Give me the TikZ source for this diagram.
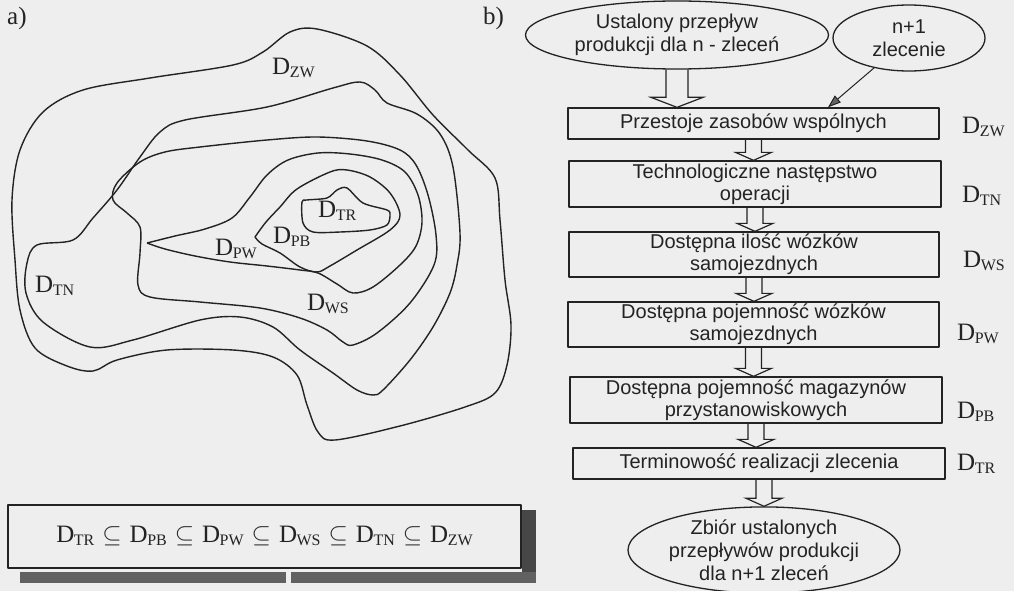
\documentclass[tikz,border=0pt]{standalone}
\usepackage{fontspec}
\usepackage{graphicx}
\setmainfont{Liberation Serif}
\newfontfamily\arialf{Liberation Sans}
\usetikzlibrary{shapes.geometric,calc,arrows.meta}
\definecolor{bg}{RGB}{238,238,238}
\definecolor{ink}{RGB}{35,35,35}
\newcommand\DD[1]{D\kern-0.02em\raisebox{-0.12em}{\scalebox{0.64}{#1}}}
\newcommand\subs{\hspace{8pt}$\subseteq$\hspace{8pt}}
\newcommand\blockarrow[5]{\draw[barrow] let \p1=(#1), \p2=(#2) in
  (\x1-#3,\y1) -- (\x1-#3,\y2+#5) -- (\x1-#4,\y2+#5) -- (\x1,\y2) --
  (\x1+#4,\y2+#5) -- (\x1+#3,\y2+#5) -- (\x1+#3,\y1);}
\begin{document}
\begin{tikzpicture}[x=1pt,y=-1pt,line join=round,
  contour/.style={draw=ink,line width=1.4pt},
  lab/.style={font=\fontsize{25}{25}\selectfont,inner sep=0pt,anchor=base west,text=ink},
  box/.style={draw=ink,line width=1.3pt,rectangle,inner sep=0pt,align=center,
    font=\arialf\fontsize{20}{22}\selectfont,text=ink},
  oval/.style={draw=ink,line width=1.3pt,ellipse,inner sep=0pt,align=center,
    font=\arialf\fontsize{20}{23}\selectfont,text=ink},
  barrow/.style={draw=ink,line width=1.2pt,line join=miter}]
\fill[bg] (0,0) rectangle (1014,591);
\useasboundingbox (0,0) rectangle (1014,591);

% ---------- part a) contours ----------
% D_ZW
\draw[contour] plot[smooth cycle,tension=0.55] coordinates {
 (12,200) (20,150) (43,112) (83,90) (150,78) (233,65) (263,52) (290,32) (317,29)
 (367,46) (400,75) (433,115) (468,150) (495,178) (500,220) (505,280) (511,325)
 (507,365) (495,393) (465,407) (400,426) (335,440) (318,432) (307,405) (297,375)
 (273,357) (233,350) (167,350) (117,360) (93,371) (67,366) (35,348) (20,310) (15,260)};
% D_TN
\draw[contour] plot[smooth cycle,tension=0.55] coordinates {
 (360,82) (375,90) (387,103) (417,114) (440,134) (453,167) (460,233) (457,265)
 (450,293) (433,327) (410,360) (383,390) (373,395) (357,390) (333,373) (300,350)
 (273,327) (240,317) (200,320) (133,340) (90,347) (43,322) (26,293) (27,263)
 (37,245) (73,240) (93,218) (117,190) (140,157) (160,132) (185,120) (267,107) (333,88)};
% D_WS
\draw[contour] plot[smooth cycle,tension=0.55] coordinates {
 (140,162) (165,152) (200,147) (267,140) (317,137) (367,141) (400,150) (416,165)
 (428,195) (436,235) (434,265) (410,303) (377,333) (353,345) (343,342) (327,330)
 (300,318) (260,308) (200,302) (150,297) (138,285) (140,253) (140,227) (127,213)
 (113,200) (117,183)};
% D_PW
\draw[contour] plot[smooth,tension=0.55] coordinates {
 (147,243) (175,236) (205,229) (232,218) (250,197) (267,175) (288,160) (318,153)
 (350,154) (382,160) (405,172) (418,195) (422,222) (416,246) (400,265) (373,287)
 (353,293) (337,284) (318,273) (300,270) (267,266) (230,262) (195,256) (165,249) (147,243)};
% D_PB
\draw[contour] plot[smooth,tension=0.55] coordinates {
 (255,237) (266,222) (280,207) (297,189) (330,172) (347,170) (370,177) (390,193)
 (400,215) (390,230) (357,250) (330,266) (317,272) (300,267) (280,253) (262,244) (255,237)};
% D_TR
\draw[contour] plot[smooth cycle,tension=0.5] coordinates {
 (302,202) (303,223) (313,232) (340,232) (370,230) (387,225) (390,215) (387,210)
 (363,203) (347,188) (337,190) (327,198) (307,200)};

\node[lab] (la) at (7,25) {a)};
\node[lab] (lzw) at (272,75) {\DD{ZW}};
\node[lab] (ltn) at (35,292) {\DD{TN}};
\node[lab] (lpw) at (215,255) {\DD{PW}};
\node[lab] (lpb) at (273,243) {\DD{PB}};
\node[lab] (ltr) at (318,217) {\DD{TR}};
\node[lab] (lws) at (307,310) {\DD{WS}};

% bottom formula box with shadow
\fill[black!72] (522,510) rectangle (536,583);
\fill[black!62] (20,572) rectangle (286,583);
\fill[black!62] (291,572) rectangle (536,583);
\node[draw=ink,line width=1.6pt,fill=bg,minimum width=513pt,minimum height=63pt,inner sep=0pt,
  font=\fontsize{25}{25}\selectfont,text=ink] (eq) at (264.5,536.5)
  {\DD{TR}\subs\DD{PB}\subs\DD{PW}\subs\DD{WS}\subs\DD{TN}\subs\DD{ZW}};

% ---------- part b) flow ----------
\node[lab] (lb) at (483,25) {b)};
\node[oval,minimum width=303pt,minimum height=68pt] (e1) at (677,35)
  {Ustalony przepływ\\produkcji dla n - zleceń};
\node[oval,minimum width=152pt,minimum height=66pt] (e2) at (909,38)
  {n+1\\zlecenie};
\node[box,minimum width=371pt,minimum height=31pt] (b1) at (753.5,123.5)
  {Przestoje zasobów wspólnych};
\node[box,minimum width=372pt,minimum height=46pt] (b2) at (755,184)
  {Technologiczne następstwo\\operacji};
\node[box,minimum width=370pt,minimum height=45pt] (b3) at (754,254.5)
  {Dostępna ilość wózków\\samojezdnych};
\node[box,minimum width=371pt,minimum height=45pt] (b4) at (753.5,324.5)
  {Dostępna pojemność wózków\\samojezdnych};
\node[box,minimum width=372pt,minimum height=46pt] (b5) at (756,400)
  {Dostępna pojemność magazynów\\przystanowiskowych};
\node[box,minimum width=372pt,minimum height=31pt] (b6) at (759,463.5)
  {Terminowość realizacji zlecenia};
\node[oval,minimum width=272pt,minimum height=86pt] (e3) at (764,550)
  {Zbiór ustalonych\\przepływów produkcji\\dla n+1 zleceń};

\node[lab] (rzw) at (962,133) {\DD{ZW}};
\node[lab] (rtn) at (962,202) {\DD{TN}};
\node[lab] (rws) at (963,267) {\DD{WS}};
\node[lab] (rpw) at (957,340) {\DD{PW}};
\node[lab] (rpb) at (957,418) {\DD{PB}};
\node[lab] (rtr) at (957,470) {\DD{TR}};

\blockarrow{e1.south}{e1.south |- b1.north}{11pt}{26pt}{10pt}
\blockarrow{b1.south}{b1.south |- b2.north}{8pt}{18pt}{8pt}
\blockarrow{b2.south}{b2.south |- b3.north}{8pt}{18pt}{8pt}
\blockarrow{b3.south}{b3.south |- b4.north}{8pt}{18pt}{8pt}
\blockarrow{b4.south}{b4.south |- b5.north}{8pt}{18pt}{8pt}
\blockarrow{b5.south}{b5.south |- b6.north}{8pt}{18pt}{8pt}
\blockarrow{e3.north |- b6.south}{e3.north}{8pt}{18pt}{8pt}

\draw[ink,line width=1pt,-{Triangle[length=13pt,width=9pt,fill=ink!70]}]
  (e2) -- ($(b1.north)!0.4!(b1.north east)$);
\end{tikzpicture}
\end{document}
